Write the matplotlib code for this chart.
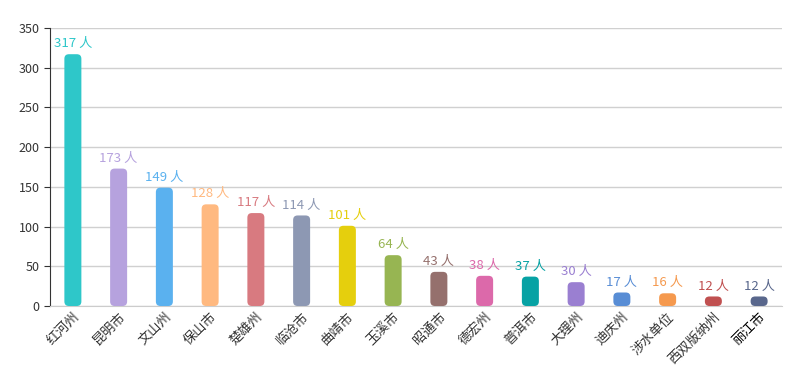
import matplotlib
matplotlib.use('Agg')
import matplotlib.pyplot as plt
from matplotlib.patches import FancyBboxPatch

plt.rcParams['font.family'] = ['Noto Sans CJK SC', 'DejaVu Sans']

cities = ['红河州', '昆明市', '文山州', '保山市', '楚雄州', '临沧市', '曲靖市', '玉溪市',
          '昭通市', '德宏州', '普洱市', '大理州', '迪庆州', '涉水单位', '西双版纳州', '丽江市']
counts = [317, 173, 149, 128, 117, 114, 101, 64, 43, 38, 37, 30, 17, 16, 12, 12]
colors = ['#2ec7c9', '#b6a2de', '#5ab1ef', '#ffb980', '#d87a80', '#8d98b3', '#e5cf0d', '#97b552',
          '#95706d', '#dc69aa', '#07a2a4', '#9a7fd1', '#588dd5', '#f5994e', '#c05050', '#59678c']

fig = plt.figure(figsize=(8, 3.67), dpi=100)
ax = fig.add_axes([50 / 800, 1 - 306 / 367, 732 / 800, 278 / 367])

n = len(cities)
ax.set_xlim(-0.5, n - 0.5)
ax.set_ylim(0, 350)

# rounded bars: convert a pixel radius to data units for both axes
bw = 17 / 45.75
px_x = 1 / 45.75
px_y = 350 / 278
aspect = px_y / px_x
for i, (v, c) in enumerate(zip(counts, colors)):
    r = min(4.5 * px_x, v / 2 / aspect)
    p = FancyBboxPatch((i - bw / 2, 0), bw, v,
                       boxstyle='round,pad=0,rounding_size=%f' % r,
                       mutation_aspect=aspect, facecolor=c, edgecolor='none', zorder=3)
    ax.add_patch(p)
    ax.text(i, v + 5, '%d 人' % v, color=c, ha='center', va='bottom', fontsize=9.5)

ax.set_yticks(range(0, 351, 50))
ax.yaxis.grid(True, color='#d0d0d0', linewidth=1)
ax.set_axisbelow(True)
ax.tick_params(axis='y', colors='#333333', labelsize=9, length=4, direction='out')
ax.tick_params(axis='x', length=0, pad=3)
ax.set_xticks(range(n))
ax.set_xticklabels(cities, rotation=45, ha='right', rotation_mode='anchor',
                   fontsize=9.5, color='#333333')
ax.get_xticklabels()[-1].set_color('#000000')

for s in ['top', 'right']:
    ax.spines[s].set_visible(False)
ax.spines['left'].set_color('#333333')
ax.spines['bottom'].set_color('#cccccc')

fig.savefig('out.png', dpi=100)
